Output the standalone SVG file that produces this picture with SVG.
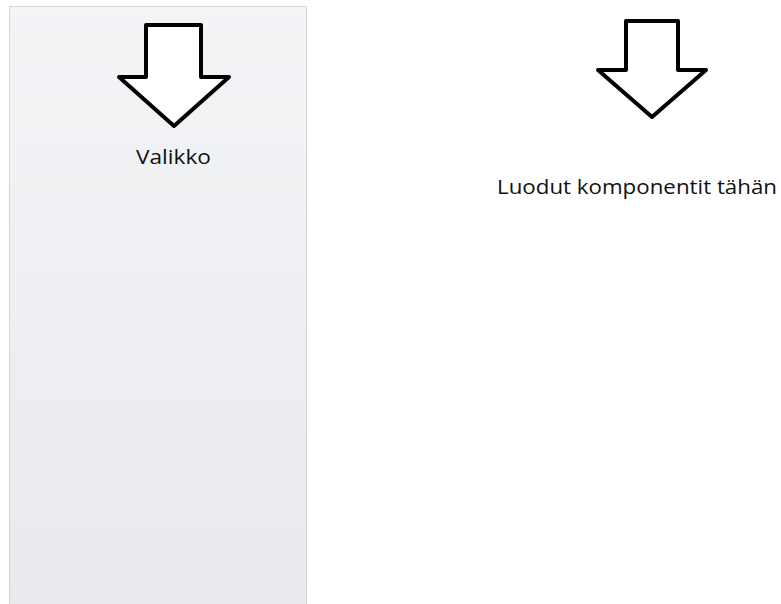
<svg xmlns="http://www.w3.org/2000/svg" width="781" height="604" viewBox="0 0 781 604">
<defs>
<linearGradient id="panelGrad" x1="0" y1="0" x2="0" y2="1">
<stop offset="0" stop-color="#f3f4f6"/>
<stop offset="1" stop-color="#e9eaee"/>
</linearGradient>
<style>
.arrow{fill:#ffffff;stroke:#000000;stroke-width:4;stroke-linejoin:round}
.lbl{font-family:"Open Sans","Liberation Sans",sans-serif;font-size:20px;fill:#111111}
</style>
</defs>
<rect width="781" height="604" fill="#ffffff"/>
<g id="menu-panel">
<rect x="9.5" y="6.5" width="297" height="600" fill="url(#panelGrad)" stroke="#d6d7db" stroke-width="1"/>
</g>
<g id="menu-arrow">
<polygon class="arrow" points="146,25 201,25 201,77 229,77 174,126 119,77 146,77"/>
</g>
<g id="menu-label">
<text class="lbl" x="136" y="164" textLength="75" lengthAdjust="spacingAndGlyphs">Valikko</text>
</g>
<g id="components-arrow">
<polygon class="arrow" points="626,21 678,21 678,70 706,70 652,117 598,70 626,70"/>
</g>
<g id="components-label">
<text class="lbl" x="497" y="194" textLength="280" lengthAdjust="spacingAndGlyphs">Luodut komponentit tähän</text>
</g>
<g id="connectors"></g>
</svg>
